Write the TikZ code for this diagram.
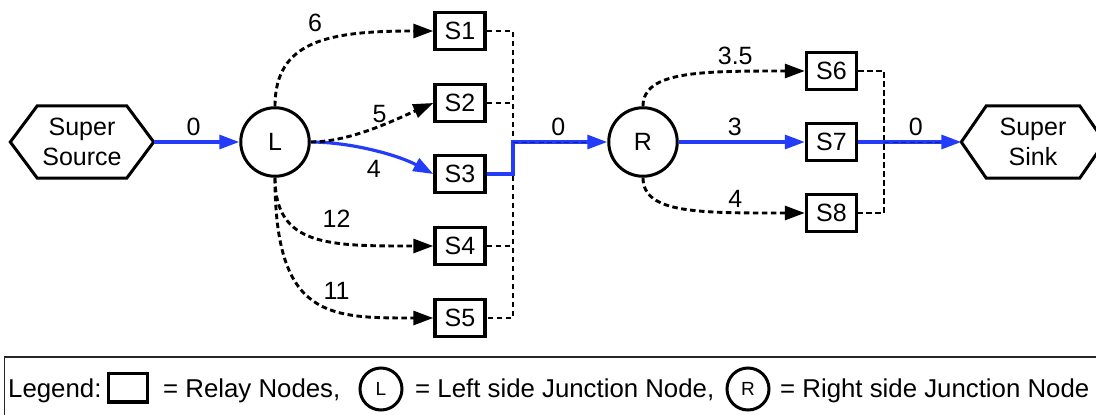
\documentclass[tikz,border=0pt]{standalone}
\usepackage{fontspec}
\setmainfont{Liberation Sans}
\usetikzlibrary{arrows.meta,calc}
\definecolor{flowblue}{RGB}{35,60,250}
\begin{document}
\begin{tikzpicture}[x=1pt,y=-1pt,
  font=\fontsize{25}{30}\selectfont,
  relay/.style={draw, line width=3.4pt, minimum width=50pt, minimum height=37pt, inner sep=0pt},
  junction/.style={draw, circle, line width=3pt, minimum size=68.5pt, inner sep=0pt},
  terminal/.style={minimum width=143pt, minimum height=72pt, inner sep=0pt, align=center},
  hexline/.style={line width=3pt, line join=miter},
  tip/.style={-{Triangle[length=20pt,width=14pt]}},
  idle/.style={draw=black, line width=2.9pt, dash pattern=on 5.5pt off 3.5pt},
  flow/.style={draw=flowblue, line width=3.2pt},
  flowdash/.style={draw=black, line width=1pt, dash pattern=on 5pt off 3.5pt, opacity=0.45},
  wlabel/.style={inner sep=2pt},
  lgtext/.style={anchor=base west, inner sep=0pt, font=\fontsize{25.8}{30}\selectfont},
  lgjunction/.style={draw, circle, line width=3pt, minimum size=42pt, inner sep=0pt, font=\fontsize{19}{20}\selectfont}
]
\useasboundingbox (0,0) rectangle (1096,415);

% terminals
\node[terminal] (src) at (82,142) {Super\\Source};
\draw[hexline] (src.west) -- ($(src.north west)+(27,0)$) -- ($(src.north east)+(-27,0)$) -- (src.east) -- ($(src.south east)+(-27,0)$) -- ($(src.south west)+(27,0)$) -- cycle;
\node[terminal] (snk) at (1033,142) {Super\\Sink};
\draw[hexline] (snk.west) -- ($(snk.north west)+(25,0)$) -- ($(snk.north east)+(-25,0)$) -- (snk.east) -- ($(snk.south east)+(-25,0)$) -- ($(snk.south west)+(25,0)$) -- cycle;

% junctions
\node[junction] (l) at (275,142) {L};
\node[junction] (r) at (643,142) {R};

% relays
\node[relay] (s1) at (460,31) {S1};
\node[relay] (s2) at (460,103) {S2};
\node[relay] (s3) at (460,174) {S3};
\node[relay] (s4) at (460,246) {S4};
\node[relay] (s5) at (460,318) {S5};
\node[relay] (s6) at (831.5,71) {S6};
\node[relay] (s7) at (831.5,142) {S7};
\node[relay] (s8) at (831.5,213) {S8};

\coordinate (bl) at (513,142);
\coordinate (br) at (884,142);

% buses
\draw[idle] (s1.east) -- (s1.east -| bl) -- (s5.east -| bl) -- (s5.east);
\draw[idle] (s2.east) -- (s2.east -| bl);
\draw[idle] (s4.east) -- (s4.east -| bl);
\draw[idle] (s6.east) -- (s6.east -| br) -- (s8.east -| br) -- (s8.east);

% left edges
\draw[flow,tip] (src.east) -- node[pos=0.465, above=3pt, wlabel] {0} (l.west);
\draw[flow,tip] (l.east) .. controls +(40,0) and +(-35.3,-19) .. node[pos=0.5, below=6pt, wlabel] {4} (s3.west);
\draw[idle,tip] (l.east) .. controls +(40,0) and +(-36.5,16) .. node[pos=0.55, above, wlabel] {5} (s2.west);
\draw[idle,tip] (l.north) .. controls +(0,-66) and +(-104,0) .. node[pos=0.5, above=9pt, wlabel] {6} (s1.west);
\draw[idle,tip] (l.south) .. controls +(0,69) and +(-104,0) .. node[pos=0.62, above=12pt, wlabel] {12} (s4.west);
\draw[idle,tip] (l.south) .. controls +(0,141) and +(-104,0) .. node[pos=0.62, above=8pt, wlabel] {11} (s5.west);

% middle flow
\draw[flow,tip] (s3.east) -- (s3.east -| bl) |- node[pos=0.74, above=3pt, wlabel] {0} (r.west);
\draw[flowdash, shorten >=20pt] (bl) -- (r.west);

% right edges
\draw[flow,tip] (r.east) -- node[pos=0.444, above=3pt, wlabel] {3} (s7.west);
\draw[idle,tip] (r.north) .. controls +(0,-35) and +(-105,0) .. node[pos=0.75, above=3pt, wlabel] {3.5} (s6.west);
\draw[idle,tip] (r.south) .. controls +(0,36) and +(-105,0) .. node[pos=0.75, above=2pt, wlabel] {4} (s8.west);
\draw[flow,tip] (s7.east) -- node[pos=0.56, above=3pt, wlabel] {0} (snk.west);
\draw[flowdash, shorten >=20pt] (br) -- (snk.west);

% legend
\draw[line width=1.2pt, draw=black!85] (4.5,357) rectangle (1110,440);
\node[lgtext] (lg0) at (8,397) {Legend:};
\node[draw, line width=3.4pt, minimum width=38.6pt, minimum height=28.2pt, inner sep=0pt] (lgbox) at (128,387.8) {};
\node[lgtext] (lg1) at (163,397) {= Relay Nodes,};
\node[lgjunction] (lgl) at (381,389) {L};
\node[lgtext] (lg2) at (415,397) {= Left side Junction Node,};
\node[lgjunction] (lgr) at (748,389) {R};
\node[lgtext] (lg3) at (780,397) {= Right side Junction Node};
\end{tikzpicture}
\end{document}
